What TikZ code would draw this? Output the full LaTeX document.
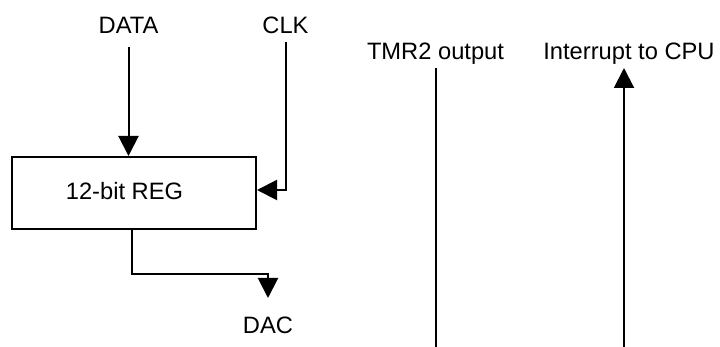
\documentclass[tikz,border=0pt]{standalone}
\usepackage{fontspec}
\setmainfont{Liberation Sans}
\usetikzlibrary{arrows.meta}
\begin{document}
\begin{tikzpicture}[x=1pt,y=-1pt,
  lbl/.style={inner sep=0pt, anchor=base, font=\fontsize{23.7}{28}\selectfont},
  wire/.style={line width=2pt},
  arr/.style={wire, -{Triangle[length=20pt,width=20pt]}},
  regbox/.style={draw, line width=2pt, minimum width=244pt, minimum height=72pt, inner sep=0pt}]
\useasboundingbox (0,0) rectangle (720,347);
\node[regbox] (reg) at (134,193) {};
\node[lbl] (regtxt) at (124.5,200) {12-bit REG};
\node[lbl] (data) at (128.5,33.3) {DATA};
\node[lbl] (clk) at (285.5,33.3) {CLK};
\node[lbl] (dac) at (268,333) {DAC};
\node[lbl] (tmr) at (435.5,60) {TMR2 output};
\node[lbl] (intr) at (629,60) {Interrupt to CPU};
\coordinate (tmrend) at (436,347);
\coordinate (intrend) at (624,347);
\draw[arr] ([yshift=-14pt]data.base) -- (data.base |- reg.north);
\draw[arr] ([yshift=-9pt]clk.base) |- ([yshift=3pt]reg.east);
\draw[arr] ([xshift=-2pt]reg.south) -- ++(0,44) -| ([yshift=35pt]dac.base);
\draw[wire] ([yshift=-8pt]tmr.base -| tmrend) -- (tmrend);
\draw[arr] (intrend) -- ([yshift=-8pt]intr.base -| intrend);
\end{tikzpicture}
\end{document}
